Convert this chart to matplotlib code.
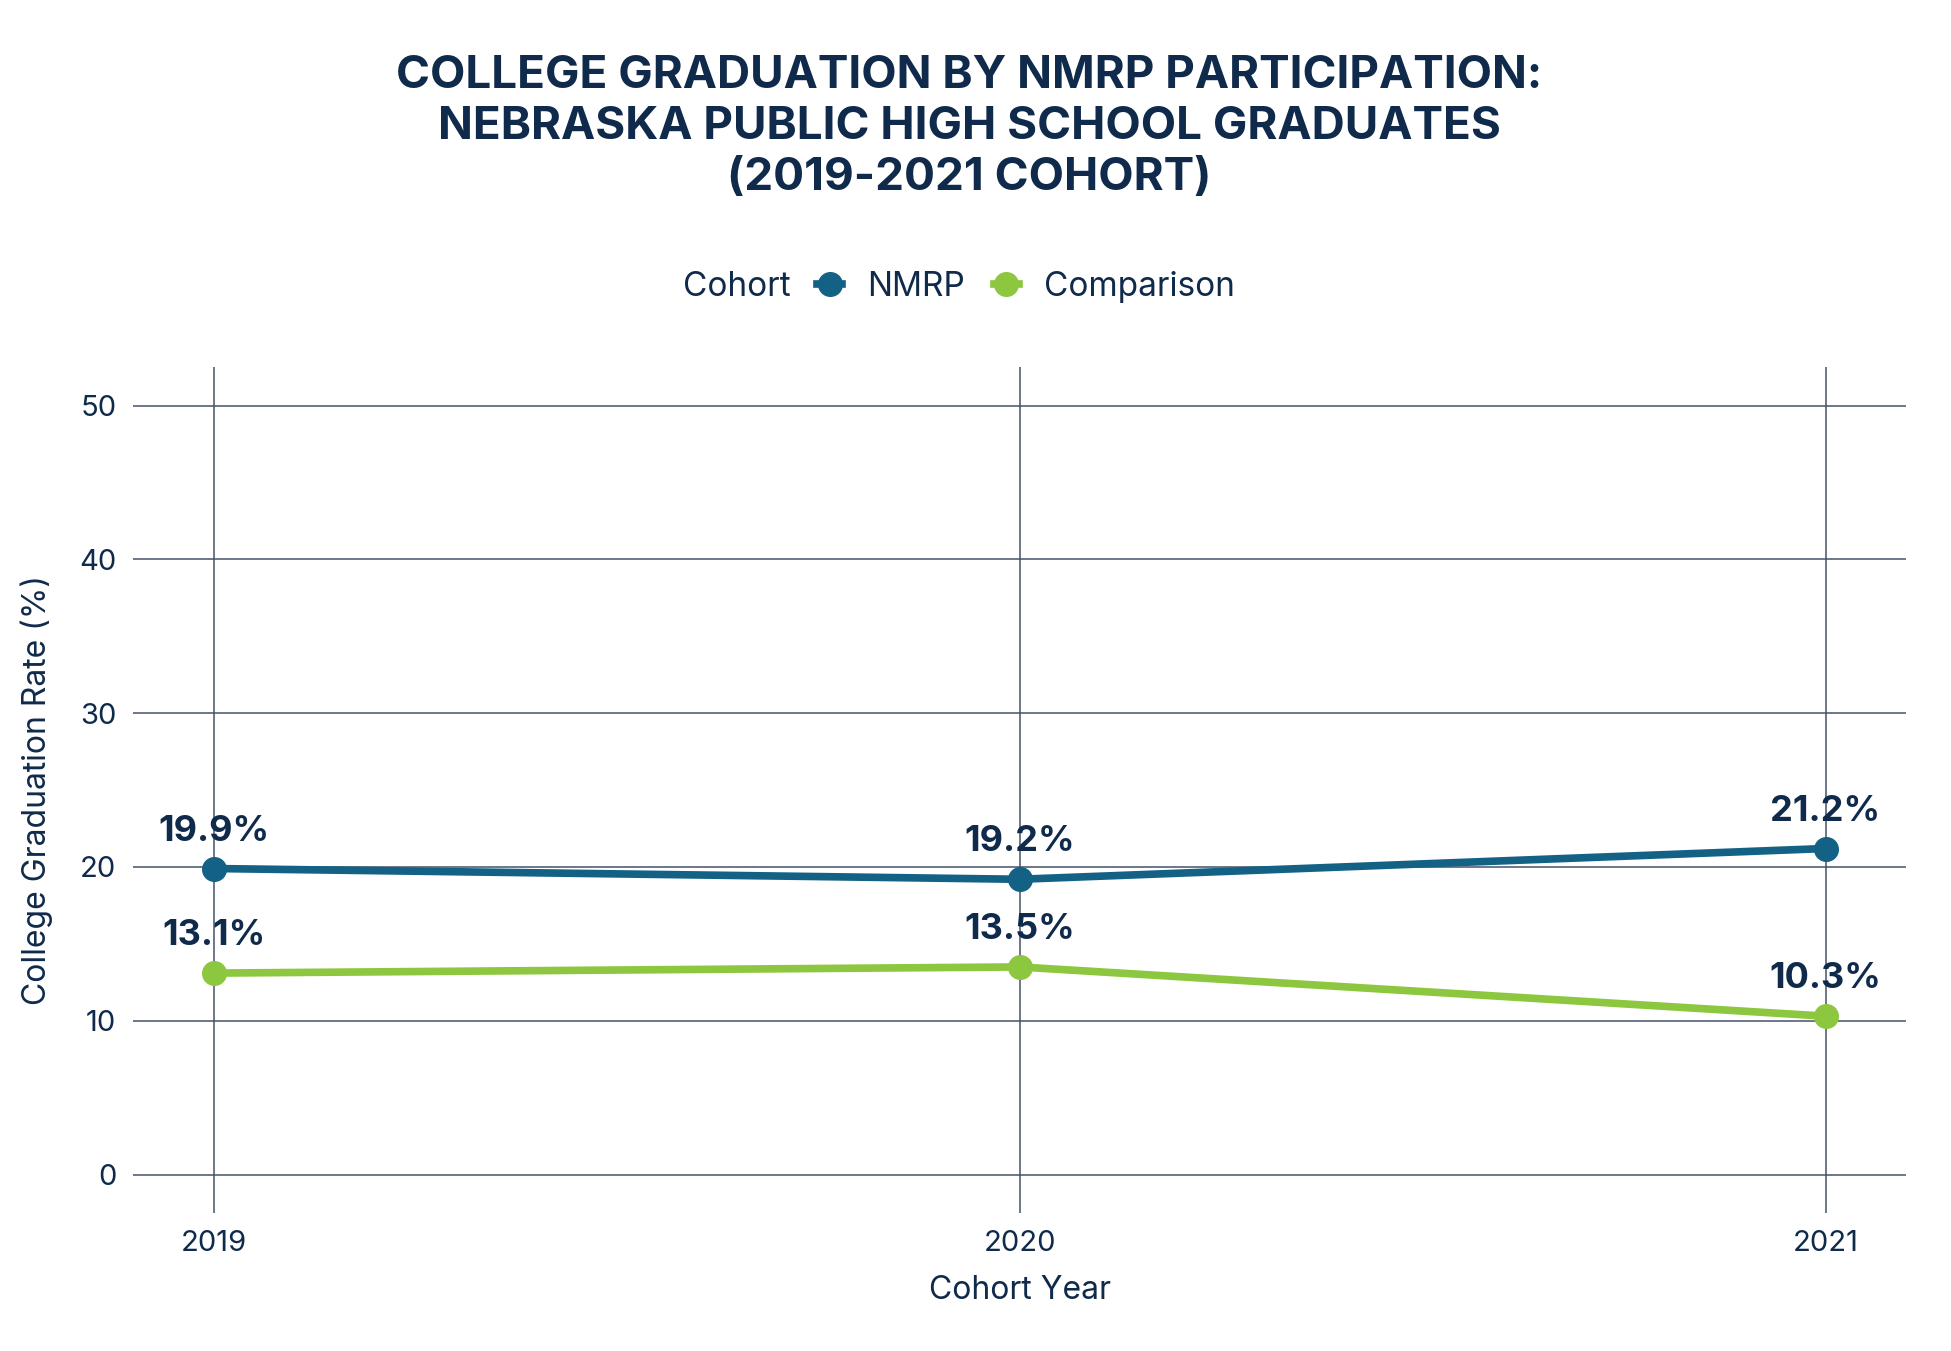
import matplotlib
matplotlib.use("Agg")
import matplotlib.pyplot as plt
from matplotlib.lines import Line2D

plt.rcParams['font.family'] = ['Inter', 'DejaVu Sans']

years = [2019, 2020, 2021]
nmrp = [19.9, 19.2, 21.2]
comparison = [13.1, 13.5, 10.3]
series_names = ['NMRP', 'Comparison']
y_ticks = [0, 10, 20, 30, 40, 50]
title_lines = ['COLLEGE GRADUATION BY NMRP PARTICIPATION:',
               'NEBRASKA PUBLIC HIGH SCHOOL GRADUATES',
               '(2019-2021 COHORT)']

navy = '#0f2a4a'
grid_col = '#44536b'
c_nmrp = '#136184'
c_comp = '#8dc63f'

fig = plt.figure(figsize=(19.51, 13.51), dpi=100)
ax = fig.add_axes([0.0682, 0.1021, 0.9088, 0.6262])

for vals, col in [(nmrp, c_nmrp), (comparison, c_comp)]:
    ax.plot(years, vals, color=col, lw=5.5, marker='o', ms=17, zorder=3,
            solid_capstyle='round')
    for x, v in zip(years, vals):
        ax.annotate(f'{v:.1f}%', (x, v), xytext=(0, 27), textcoords='offset points',
                    ha='center', va='center', fontsize=26, fontweight='bold',
                    color=navy, zorder=4)

ax.set_xlim(2018.9, 2021.1)
ax.set_ylim(-2.5, 52.5)
ax.set_xticks(years)
ax.set_yticks(y_ticks)
ax.grid(True, color=grid_col, lw=1.1)
ax.set_axisbelow(True)
for s in ax.spines.values():
    s.set_visible(False)
ax.tick_params(length=0, labelsize=21, labelcolor=navy, pad=12)
ax.set_xlabel('Cohort Year', fontsize=23, color=navy, labelpad=13)
ax.set_ylabel('College Graduation Rate (%)', fontsize=23, color=navy, labelpad=19)

# title, one line at a time so the spacing matches
for txt, yy in zip(title_lines, [0.9349, 0.8971, 0.8594]):
    fig.text(0.4967, yy, txt, fontsize=33, fontweight='bold', color=navy,
             ha='center', va='baseline')

fig.text(0.405, 0.7875, 'Cohort', fontsize=24, color=navy, ha='right', va='center')
handles = [Line2D([], [], color=c, lw=5.5, marker='o', ms=17) for c in (c_nmrp, c_comp)]
fig.legend(handles, series_names, loc='center left', bbox_to_anchor=(0.419, 0.7875),
           ncol=2, frameon=False, fontsize=24, labelcolor=navy, handlelength=0.75,
           handletextpad=0.75, columnspacing=0.85, borderaxespad=0, borderpad=0)

fig.savefig('out.png', dpi=100, facecolor='white')
